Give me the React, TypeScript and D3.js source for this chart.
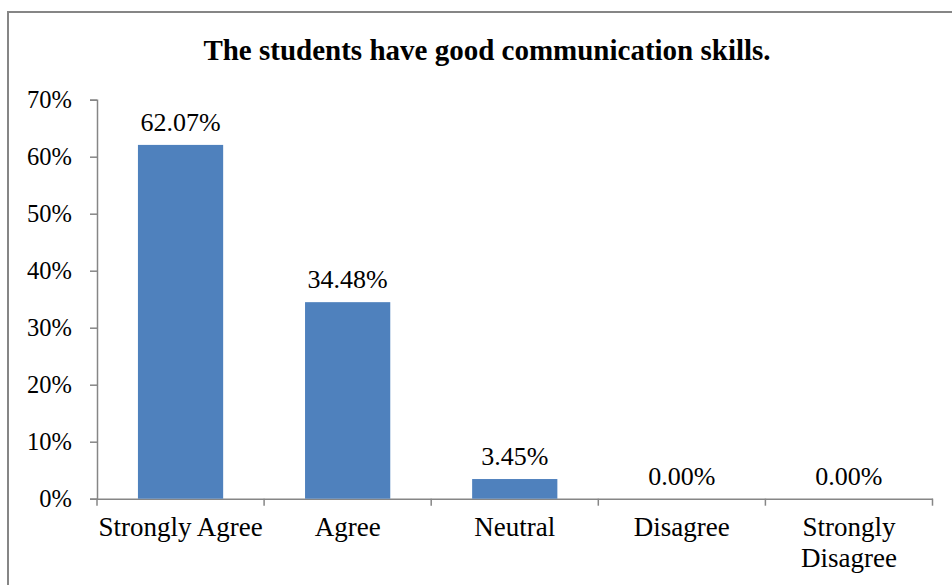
import React, { useEffect, useRef } from 'react';
import * as d3 from 'd3';

const categories = ['Strongly Agree', 'Agree', 'Neutral', 'Disagree', 'Strongly Disagree'];
const values = [62.07, 34.48, 3.45, 0, 0];
const yTicks = [0, 10, 20, 30, 40, 50, 60, 70];
const title = 'The students have good communication skills.';

const App = () => {
  const ref = useRef<SVGSVGElement>(null);

  useEffect(() => {
    drawChart();
  }, []);

  const drawChart = () => {
    const svg = d3.select(ref.current);
    svg.selectAll('*').remove();
    const font = '"Liberation Serif", "Times New Roman", serif';
    const axisColor = '#868686';

    // outer frame
    svg
      .append('rect')
      .attr('x', 8)
      .attr('y', 12)
      .attr('width', 1000)
      .attr('height', 700)
      .attr('fill', 'white')
      .attr('stroke', axisColor)
      .attr('stroke-width', 2);

    svg
      .append('text')
      .attr('x', 487)
      .attr('y', 60)
      .attr('text-anchor', 'middle')
      .attr('font-family', font)
      .attr('font-weight', 'bold')
      .attr('font-size', 29)
      .text(title);

    const left = 97;
    const right = 932.5;
    const top = 99.7;
    const bottom = 498.7;

    const xScale = d3.scaleBand().domain(categories).range([left, right]).paddingInner(0.49).paddingOuter(0.245);
    const xBand = d3.scaleBand().domain(categories).range([left, right]);
    const yScale = d3.scaleLinear().domain([0, 70]).range([bottom, top]);

    const xAxis = svg
      .append('g')
      .attr('transform', `translate(0,${bottom})`)
      .call(d3.axisBottom(xBand).tickSize(0).tickFormat(() => ''));
    xAxis.select('.domain').attr('stroke', axisColor).attr('stroke-width', 1.5);
    const bounds = categories.map(c => xBand(c) as number).concat([right]);
    svg
      .append('g')
      .selectAll('line')
      .data(bounds)
      .join('line')
      .attr('x1', d => d)
      .attr('x2', d => d)
      .attr('y1', bottom)
      .attr('y2', bottom + 7)
      .attr('stroke', axisColor)
      .attr('stroke-width', 1.5);

    const yAxis = svg
      .append('g')
      .attr('transform', `translate(${left},0)`)
      .call(
        d3
          .axisLeft(yScale)
          .tickValues(yTicks)
          .tickSize(7)
          .tickSizeOuter(7)
          .tickPadding(18)
          .tickFormat(d => `${d}%`)
      );
    yAxis.select('.domain').attr('stroke', axisColor).attr('stroke-width', 1.5);
    yAxis.selectAll('.tick line').attr('stroke', axisColor).attr('stroke-width', 1.5);
    yAxis
      .selectAll('.tick text')
      .attr('font-family', font)
      .attr('font-size', 24.5)
      .attr('fill', '#000')
      .attr('dy', '0.3em');

    svg
      .append('g')
      .selectAll('rect')
      .data(values)
      .join('rect')
      .attr('x', (d, i) => xScale(categories[i]) as number)
      .attr('width', xScale.bandwidth())
      .attr('y', d => yScale(d))
      .attr('height', d => bottom - yScale(d))
      .attr('fill', '#4F81BD');

    svg
      .append('g')
      .selectAll('text')
      .data(values)
      .join('text')
      .attr('x', (d, i) => (xBand(categories[i]) as number) + xBand.bandwidth() / 2)
      .attr('y', d => yScale(d) - 14)
      .attr('text-anchor', 'middle')
      .attr('font-family', font)
      .attr('font-size', 26)
      .text(d => `${d.toFixed(2)}%`);

    const catLabels = svg
      .append('g')
      .selectAll('text')
      .data(categories)
      .join('text')
      .attr('x', d => (xBand(d) as number) + xBand.bandwidth() / 2)
      .attr('y', 536)
      .attr('text-anchor', 'middle')
      .attr('font-family', font)
      .attr('font-size', 27);
    catLabels.each(function(d) {
      const words = d === 'Strongly Disagree' ? ['Strongly', 'Disagree'] : [d];
      d3.select(this)
        .selectAll('tspan')
        .data(words)
        .join('tspan')
        .attr('x', (xBand(d) as number) + xBand.bandwidth() / 2)
        .attr('dy', (w, i) => (i === 0 ? 0 : 31))
        .text(w => w);
    });
  };

  return (
    <svg
      ref={ref}
      width={952}
      height={585}
      style={{ position: 'absolute', left: 0, top: 0, background: 'white' }}
    />
  );
};
export default App;
